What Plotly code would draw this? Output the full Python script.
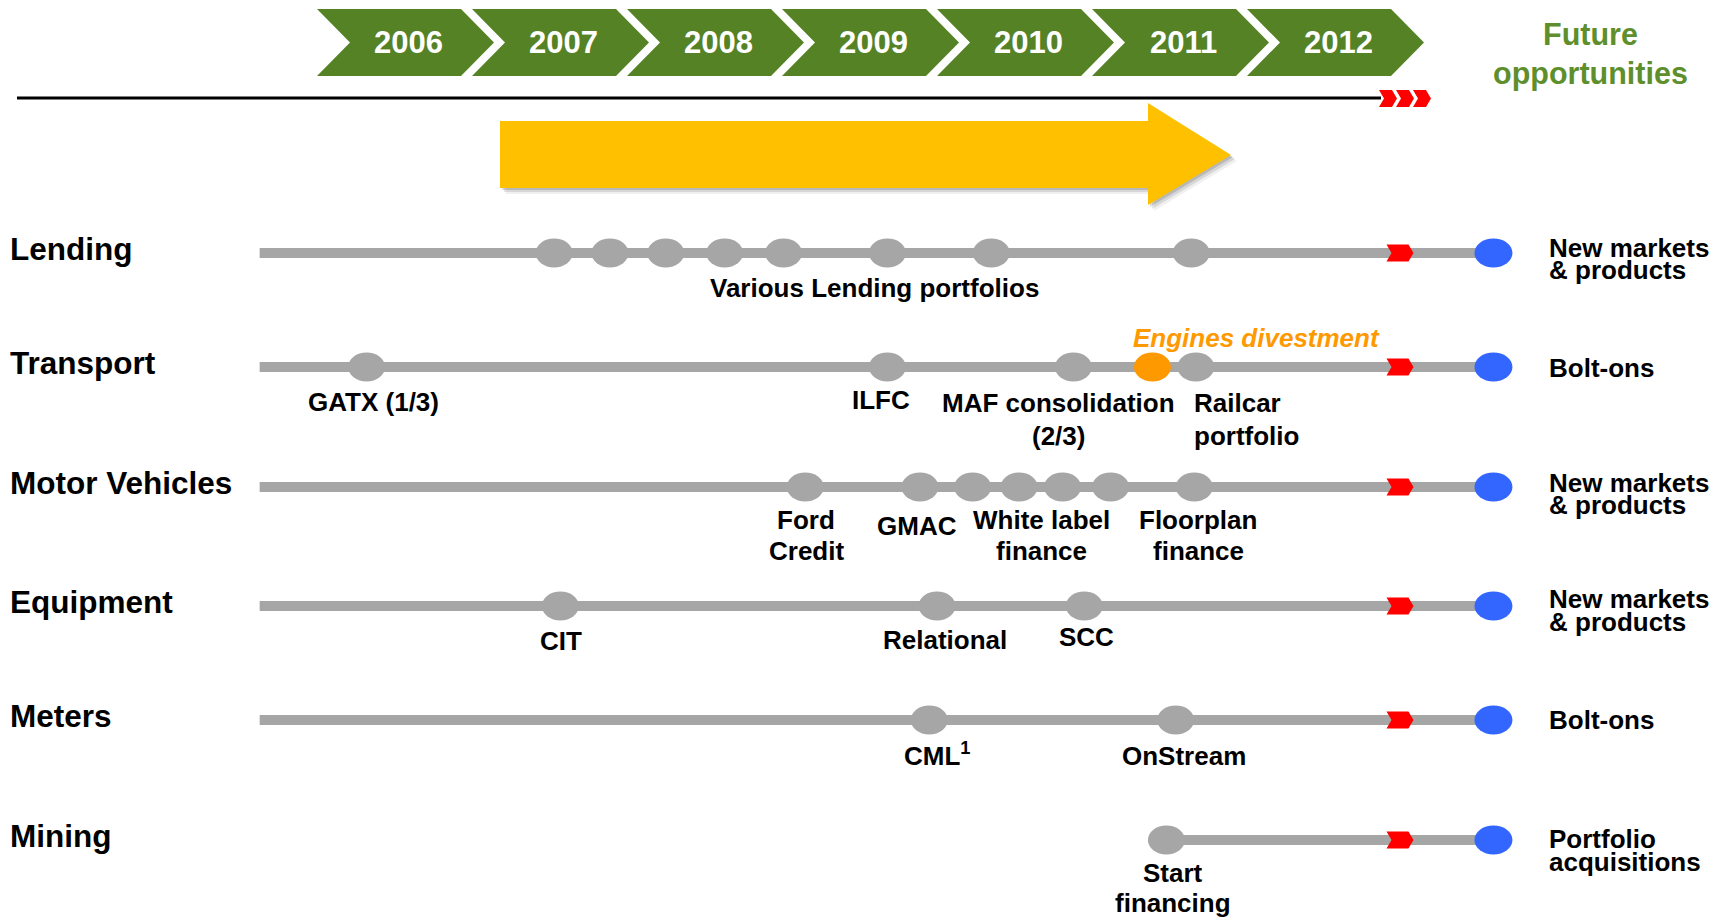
import plotly.graph_objects as go

# ---------------- data ----------------
YEARS = [2006, 2007, 2008, 2009, 2010, 2011, 2012]
SEGMENTS = ["Lending", "Transport", "Motor Vehicles", "Equipment", "Meters", "Mining"]
FUTURE_LABELS = [["New markets", "& products"], ["Bolt-ons"], ["New markets", "& products"],
                 ["New markets", "& products"], ["Bolt-ons"], ["Portfolio", "acquisitions"]]

# timing of each deal (decimal years), per segment
LENDING_EVENTS = [2007.53, 2007.89, 2008.25, 2008.63, 2009.01, 2009.68, 2010.35, 2011.64]
TRANSPORT_EVENTS = [2006.32, 2009.68, 2010.88, 2011.39, 2011.67]
TRANSPORT_DIVEST = [False, False, False, True, False]
MOTOR_EVENTS = [2009.15, 2009.89, 2010.23, 2010.53, 2010.81, 2011.12, 2011.66]
EQUIPMENT_EVENTS = [2007.57, 2010.00, 2010.95]
METERS_EVENTS = [2009.95, 2011.54]
MINING_EVENTS = [2011.48]
EVENTS = [LENDING_EVENTS, TRANSPORT_EVENTS, MOTOR_EVENTS, EQUIPMENT_EVENTS, METERS_EVENTS, MINING_EVENTS]
TIMELINE_START = 2005.63
FUTURE_POINT = 2013.59
FUTURE_TICK = 2012.90

# ---------------- layout helpers ----------------
W, H = 1731, 919
PX0, PPY = 317.0, 155.0          # pixel of 2006 chevron start, pixels per year


def X(px):
    return 2006 + (px - PX0) / PPY


def dx(px):
    return px / PPY


ROW_Y = [253, 367, 487, 606, 720, 840]
GREEN = "#568226"
GREEN_TXT = "#5E8F2C"
GRAY = "#A6A6A6"
BLUE = "#3366FF"
RED = "#FF0000"
ORANGE = "#FF9900"
YELLOW = "#FFC000"
FONT = "Arial, Liberation Sans, sans-serif"

fig = go.Figure()
shapes = []
annotations = []


def chevron(x0, x1, y0, y1, d, color):
    ym = (y0 + y1) / 2
    path = (f"M {x0},{y0} L {x1},{y0} L {x1 + d},{ym} L {x1},{y1} "
            f"L {x0},{y1} L {x0 + d},{ym} Z")
    return dict(type="path", xref="x", yref="y", path=path,
                fillcolor=color, line=dict(width=0), layer="above")


def text_at(s, xval, ypx, size, color="black", anchor="center", bold=True, italic=False):
    t = s
    if bold:
        t = f"<b>{t}</b>"
    if italic:
        t = f"<i>{t}</i>"
    annotations.append(dict(x=xval, y=ypx, xref="x", yref="y", text=t, showarrow=False,
                            xanchor=anchor, yanchor="middle",
                            font=dict(family=FONT, size=size, color=color)))


def text(s, xpx, ypx, size, **kw):
    text_at(s, X(xpx), ypx, size, **kw)


# ---- year chevrons ----
for yr in YEARS:
    shapes.append(chevron(yr, yr + dx(144), 9, 76, dx(33), GREEN))
    text_at(str(yr), yr + dx(91), 42, 31, color="white")

text("Future", 1590, 34, 30.5, color=GREEN_TXT)
text("opportunities", 1590, 73, 30.5, color=GREEN_TXT)

# ---- black timeline + red triple chevron ----
shapes.append(dict(type="line", xref="x", yref="y", x0=X(17), x1=X(1381), y0=98, y1=98,
                   line=dict(color="black", width=3)))
for i in range(3):
    x0 = X(1379 + 17 * i)
    shapes.append(chevron(x0, x0 + dx(13), 90, 107, dx(5), RED))


# ---- yellow arrow with soft shadow ----
def arrow_path(ox, oy):
    return (f"M {X(500 + ox)},{121 + oy} L {X(1148 + ox)},{121 + oy} L {X(1148 + ox)},{103 + oy} "
            f"L {X(1231 + ox)},{155 + oy} L {X(1148 + ox)},{205 + oy} L {X(1148 + ox)},{188 + oy} "
            f"L {X(500 + ox)},{188 + oy} Z")


for off, op in [(6, 0.06), (4, 0.10), (2, 0.14)]:
    shapes.append(dict(type="path", xref="x", yref="y", path=arrow_path(off, off),
                       fillcolor=f"rgba(0,0,0,{op})", line=dict(width=0), layer="below"))
shapes.append(dict(type="path", xref="x", yref="y", path=arrow_path(0, 0),
                   fillcolor=YELLOW, line=dict(width=0), layer="below"))

# ---- segment rows ----
for i, (seg, ev) in enumerate(zip(SEGMENTS, EVENTS)):
    y = ROW_Y[i]
    start = ev[0] if seg == "Mining" else TIMELINE_START
    fig.add_trace(go.Scatter(x=[start, FUTURE_POINT], y=[y, y], mode="lines",
                             line=dict(color=GRAY, width=10), hoverinfo="skip",
                             showlegend=False))
    for j, e in enumerate(ev):
        col = ORANGE if (seg == "Transport" and TRANSPORT_DIVEST[j]) else GRAY
        shapes.append(dict(type="circle", xref="x", yref="y",
                           x0=e - dx(18.5), x1=e + dx(18.5), y0=y - 14.5, y1=y + 14.5,
                           fillcolor=col, line=dict(width=0), layer="above"))
    # red "future" tick and blue end point
    shapes.append(chevron(FUTURE_TICK, FUTURE_TICK + dx(22), y - 8.5, y + 8.5, dx(5), RED))
    shapes.append(dict(type="circle", xref="x", yref="y",
                       x0=FUTURE_POINT - dx(19), x1=FUTURE_POINT + dx(19),
                       y0=y - 14.5, y1=y + 14.5, fillcolor=BLUE, line=dict(width=0),
                       layer="above"))
    # segment name
    text(seg, 8, y - 4, 31.5, anchor="left")

# future labels (right side)
FUT_OFFSETS = [[-5, 17], [1], [-4, 18], [-7, 16], [0], [-1, 22]]
for i, labs in enumerate(FUTURE_LABELS):
    for lab, off in zip(labs, FUT_OFFSETS[i]):
        text(lab, 1547, ROW_Y[i] + off, 26, anchor="left")

# ---- deal labels ----
DEAL_LABELS = [
    ("Various Lending portfolios", 874, 288, "center"),
    ("GATX (1/3)", 373, 402, "center"),
    ("ILFC", 881, 400, "center"),
    ("MAF consolidation", 1058, 403, "center"),
    ("(2/3)", 1058, 436, "center"),
    ("Railcar", 1192, 403, "left"),
    ("portfolio", 1192, 436, "left"),
    ("Ford", 806, 520, "center"),
    ("Credit", 806, 551, "center"),
    ("GMAC", 917, 526, "center"),
    ("White label", 1041, 520, "center"),
    ("finance", 1041, 551, "center"),
    ("Floorplan", 1198, 520, "center"),
    ("finance", 1198, 551, "center"),
    ("CIT", 561, 641, "center"),
    ("Relational", 945, 640, "center"),
    ("SCC", 1086, 637, "center"),
    ("CML<sup>1</sup>", 937, 754, "center"),
    ("OnStream", 1184, 756, "center"),
    ("Start", 1173, 873, "center"),
    ("financing", 1173, 903, "center"),
]
for s, xp, yp, anc in DEAL_LABELS:
    text(s, xp, yp, 26, anchor=anc)

text("Engines divestment", 1256, 338, 26, color=ORANGE, italic=True)

fig.update_layout(
    width=W, height=H, margin=dict(l=0, r=0, t=0, b=0),
    paper_bgcolor="white", plot_bgcolor="white",
    xaxis=dict(range=[X(0), X(W)], visible=False, fixedrange=True),
    yaxis=dict(range=[H, 0], visible=False, fixedrange=True),
    shapes=shapes, annotations=annotations, showlegend=False,
)

fig.write_html("out.html", config={"displayModeBar": False},
               post_script="document.body.style.margin='0';document.body.style.overflow='hidden';")
